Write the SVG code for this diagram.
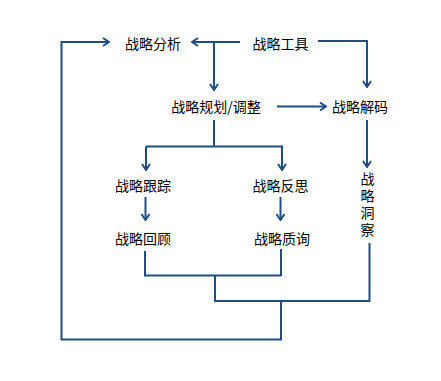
<svg xmlns="http://www.w3.org/2000/svg" width="441" height="381" viewBox="0 0 441 381">
<defs>
<style>
.l{fill:none;stroke:#1F4E86;stroke-width:2;}
.t{font-family:"Noto Sans CJK SC","Noto Sans",sans-serif;font-size:14px;fill:#000;text-anchor:middle;dominant-baseline:central;}
.v{font-family:"Noto Sans CJK SC","Noto Sans",sans-serif;font-size:14px;fill:#000;text-anchor:middle;writing-mode:vertical-rl;letter-spacing:3px;}
</style>
<marker id="a" viewBox="0 0 10 10" refX="9" refY="5" markerWidth="10" markerHeight="10" markerUnits="userSpaceOnUse" orient="auto">
<path d="M3,1 L9,5 L3,9" fill="none" stroke="#1F4E86" stroke-width="2"/>
</marker>
</defs>
<rect width="441" height="381" fill="#fff"/>
<g id="connectors">
<path class="l" d="M281,301 V339.5 H61.5 V42 H109" marker-end="url(#a)"/>
<path class="l" d="M240,42 H192" marker-end="url(#a)"/>
<path class="l" d="M214,42 V90" marker-end="url(#a)"/>
<path class="l" d="M318,41 H367 V87" marker-end="url(#a)"/>
<path class="l" d="M277,106.5 H326" marker-end="url(#a)"/>
<path class="l" d="M214,120 V146.5"/>
<path class="l" d="M146,146.5 H282"/>
<path class="l" d="M146,146.5 V170" marker-end="url(#a)"/>
<path class="l" d="M282,145.5 V170" marker-end="url(#a)"/>
<path class="l" d="M367,120 V167" marker-end="url(#a)"/>
<path class="l" d="M145.5,197 V220" marker-end="url(#a)"/>
<path class="l" d="M280.5,197 V220" marker-end="url(#a)"/>
<path class="l" d="M145,251 V275.5 H281"/>
<path class="l" d="M281,249 V276"/>
<path class="l" d="M215,275.5 V301 H369.5 V243"/>
</g>
<g id="n1"><text class="t" x="153" y="42.5">战略分析</text></g>
<g id="n2"><text class="t" x="280.5" y="42.5">战略工具</text></g>
<g id="n3"><text class="t" x="216" y="106">战略规划/调整</text></g>
<g id="n4"><text class="t" x="360" y="106">战略解码</text></g>
<g id="n5"><text class="t" x="143" y="185">战略跟踪</text></g>
<g id="n6"><text class="t" x="280.5" y="185">战略反思</text></g>
<g id="n7"><text class="t" x="143" y="238">战略回顾</text></g>
<g id="n8"><text class="t" x="282" y="238">战略质询</text></g>
<g id="n9"><text class="v" x="367.5" y="206">战略洞察</text></g>
</svg>
